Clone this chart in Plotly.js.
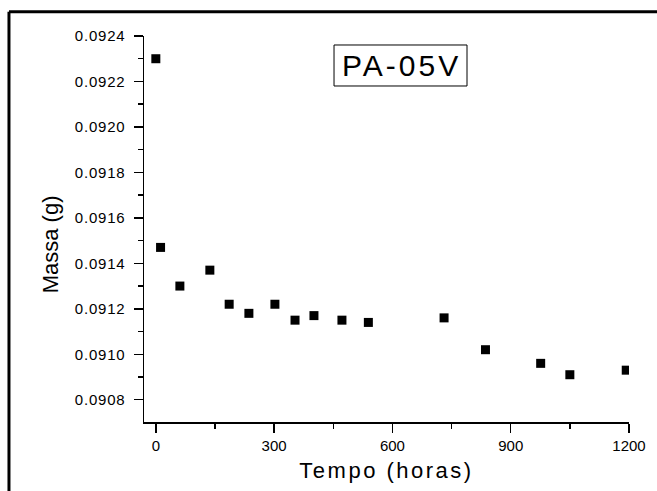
<!DOCTYPE html>
<html>
<head>
<meta charset="utf-8">
<script src="https://cdn.plot.ly/plotly-3.0.1.min.js"></script>
<style>
  html, body { margin: 0; padding: 0; background: #fff; overflow: hidden; }
  #chart { width: 657px; height: 491px; }
  .g-xtitle text { letter-spacing: 2.5px; }
  .ytick text { letter-spacing: 0.8px; }
  .annotation[data-index="0"] .annotation-text { letter-spacing: 3px; }
</style>
</head>
<body>
<div id="chart"></div>
<script>
// Data
const tempoHoras = [0, 12, 61, 137, 186, 236, 302, 353, 401, 472, 539, 731, 836, 976, 1050, 1193];
const massaG = [0.09230, 0.09147, 0.09130, 0.09137, 0.09122, 0.09118, 0.09122, 0.09115,
                0.09117, 0.09115, 0.09114, 0.09116, 0.09102, 0.09096, 0.09091, 0.09093];
const xTickVals = [0, 300, 600, 900, 1200];
const yTickVals = [0.0908, 0.0910, 0.0912, 0.0914, 0.0916, 0.0918, 0.0920, 0.0922, 0.0924];
const sampleLabel = 'PA-05V';
const xTitle = 'Tempo (horas)';
const yTitle = 'Massa (g)';

const FONT = 'Arial, "Liberation Sans", sans-serif';

const trace = {
  x: tempoHoras,
  y: massaG,
  type: 'scatter',
  mode: 'markers',
  marker: { symbol: 'square', size: 9, color: '#000' },
  hoverinfo: 'x+y'
};

const layout = {
  width: 657,
  height: 491,
  margin: { l: 144, r: 28, t: 36, b: 69 },
  paper_bgcolor: '#fff',
  plot_bgcolor: '#fff',
  showlegend: false,
  font: { family: FONT, color: '#000', size: 15 },
  xaxis: {
    range: [-30, 1200],
    showline: true, linecolor: '#000', linewidth: 1.5,
    showgrid: false, zeroline: false,
    ticks: 'outside', ticklen: 9, tickwidth: 1.5, tickcolor: '#000',
    tickvals: xTickVals,
    ticktext: xTickVals.map(String),
    ticklabelstandoff: 0,
    tickfont: { family: FONT, size: 15, color: '#000' },
    minor: { dtick: 150, tick0: 0, ticks: 'outside', ticklen: 5, tickwidth: 1.5, tickcolor: '#000', showgrid: false },
    title: { text: xTitle, font: { family: FONT, size: 22, color: '#000' }, standoff: 10 }
  },
  yaxis: {
    range: [0.090702, 0.0924],
    showline: true, linecolor: '#000', linewidth: 1.5,
    showgrid: false, zeroline: false,
    ticks: 'outside', ticklen: 9, tickwidth: 1.5, tickcolor: '#000',
    tickvals: yTickVals,
    ticktext: yTickVals.map(v => v.toFixed(4)),
    ticklabelstandoff: 5,
    tickfont: { family: FONT, size: 15, color: '#000' },
    minor: { dtick: 0.0001, tick0: 0.0908, ticks: 'outside', ticklen: 5, tickwidth: 1.5, tickcolor: '#000', showgrid: false }
  },
  annotations: [
    {
      xref: 'paper', yref: 'paper', x: 0.531, y: 0.9228,
      xanchor: 'center', yanchor: 'middle',
      text: sampleLabel, showarrow: false,
      font: { family: FONT, size: 30, color: '#000' }
    },
    {
      xref: 'paper', yref: 'paper', x: -0.192, y: 0.46,
      xanchor: 'center', yanchor: 'middle',
      text: yTitle, showarrow: false, textangle: -90,
      font: { family: FONT, size: 22, color: '#000' }
    }
  ],
  shapes: [
    { type: 'rect', xref: 'paper', yref: 'paper', x0: 0.3918, x1: 0.666, y0: 0.8705, y1: 0.9767,
      line: { color: '#000', width: 1 }, fillcolor: 'rgba(0,0,0,0)', layer: 'above' },
    { type: 'line', xref: 'paper', yref: 'paper', x0: -0.2784, x1: -0.2784, y0: -0.3, y1: 1.0628,
      line: { color: '#000', width: 3 } },
    { type: 'line', xref: 'paper', yref: 'paper', x0: -0.2784, x1: 1.2, y0: 1.0628, y1: 1.0628,
      line: { color: '#000', width: 3 } }
  ]
};

Plotly.newPlot('chart', [trace], layout, { displayModeBar: false, staticPlot: true });
</script>
</body>
</html>
